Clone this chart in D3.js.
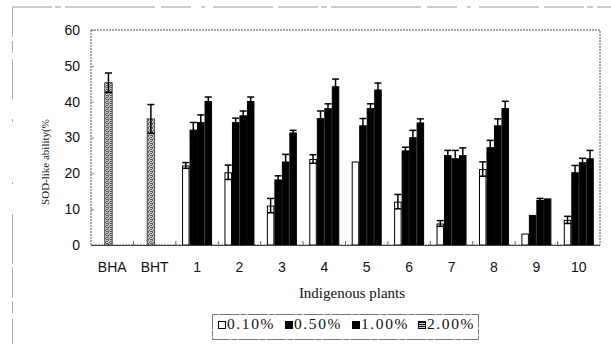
<!DOCTYPE html>
<html><head><meta charset="utf-8">
<script src="https://cdn.jsdelivr.net/npm/d3@7"></script>
<style>body{margin:0;background:#fff;} svg{display:block;}</style>
</head><body>
<svg id="chart" width="611" height="344"></svg>
<script>
const categories = ["BHA","BHT","1","2","3","4","5","6","7","8","9","10"];
const plants = ["1","2","3","4","5","6","7","8","9","10"];
const seriesNames = ["0.10%","0.50%","1.00%","2.00%"];
const standardNames = ["BHA","BHT"];
const standardValues = [45.3, 35.2];
const standardErrors = [2.7, 4.0];
const v010 = [22.2, 20.3, 11.0, 24.0, 23.3, 12.1, 6.0, 21.2, 3.2, 7.0];
const e010 = [0.8, 2.0, 2.0, 1.2, 0, 2.0, 0.8, 2.0, 0, 1.0];
const v050 = [32.2, 34.3, 18.3, 35.4, 33.4, 26.4, 25.1, 27.3, 8.4, 20.3];
const e050 = [2.0, 1.1, 1.0, 2.0, 1.9, 0.9, 1.3, 1.9, 0, 1.9];
const v100 = [34.3, 36.2, 23.3, 38.2, 38.2, 30.1, 24.2, 33.4, 12.6, 23.1];
const e100 = [2.0, 1.2, 2.0, 1.2, 1.2, 1.9, 2.2, 1.8, 0.4, 1.1];
const v200 = [40.2, 40.2, 31.4, 44.3, 43.4, 34.2, 25.1, 38.2, 13.0, 24.2];
const e200 = [1.1, 1.1, 0.6, 2.0, 1.8, 1.0, 2.0, 1.9, 0, 2.2];
const yTicks = [0, 10, 20, 30, 40, 50, 60];

const values = [v010, v050, v100, v200];
const errors = [e010, e050, e100, e200];
const fills = ["#ffffff", "#000000", "#000000", "#000000"];

const svg = d3.select("#chart");
const L = 91, R = 600, T = 30, B = 245;

const defs = svg.append("defs");
const st = defs.append("pattern").attr("id","stipple").attr("patternUnits","userSpaceOnUse")
  .attr("width",4).attr("height",4);
st.append("rect").attr("width",4).attr("height",4).attr("fill","#c4c4c4");
[[0,0],[2,1],[1,2],[3,3],[0,3],[3,1],[2,3]].forEach(p=>st.append("rect").attr("x",p[0]).attr("y",p[1]).attr("width",1).attr("height",1).attr("fill","#5e5e5e"));
const sp = defs.append("pattern").attr("id","stripes").attr("patternUnits","userSpaceOnUse")
  .attr("width",3).attr("height",2);
sp.append("rect").attr("width",3).attr("height",2).attr("fill","#cfcfcf");
sp.append("rect").attr("width",3).attr("height",1).attr("fill","#111");

const x0 = d3.scaleBand().domain(categories).range([L, R]).paddingInner(0.293).paddingOuter(0.1465);
const x1 = d3.scaleBand().domain(seriesNames).range([0, x0.bandwidth()]);
const y = d3.scaleLinear().domain([0, 60]).range([B, T]);

// figure frame (scan border)
svg.append("line").attr("x1",12).attr("x2",611).attr("y1",7).attr("y2",7)
  .attr("stroke","#999").attr("stroke-width",1).attr("stroke-dasharray","40,3,6,4,90,6,30,10,4,8,60,5");
svg.append("line").attr("x1",12.5).attr("x2",12.5).attr("y1",7).attr("y2",344)
  .attr("stroke","#aaa").attr("stroke-width",1).attr("stroke-dasharray","30,4,12,6,40,20,3,60,2,30,50,3");

// plot border
svg.append("rect").attr("x",L).attr("y",T).attr("width",R-L).attr("height",B-T)
  .attr("fill","none").attr("stroke","#555").attr("stroke-width",1).attr("stroke-dasharray","2,1");

// y axis
const yAxis = d3.axisLeft(y).tickValues(yTicks).tickSizeInner(-3).tickSizeOuter(0).tickPadding(11);
const ya = svg.append("g").attr("transform",`translate(${L},0)`).call(yAxis);
ya.select(".domain").remove();
ya.selectAll("line").attr("stroke","#888");
ya.selectAll("text").attr("font-family","'Liberation Sans', Arial, sans-serif").attr("font-size",14).attr("fill","#111");

// x axis
const xAxis = d3.axisBottom(x0).tickSize(0).tickPadding(17);
const xa = svg.append("g").attr("transform",`translate(0,${B})`).call(xAxis);
xa.select(".domain").remove();
xa.selectAll("text").attr("font-family","'Liberation Sans', Arial, sans-serif").attr("font-size",14).attr("fill","#111");

// category boundary ticks
const bounds = categories.slice(1).map(c => x0(c) - x0.step()*x0.paddingInner()/2);
svg.append("g").selectAll("line").data(bounds).join("line")
  .attr("x1",d=>d).attr("x2",d=>d).attr("y1",B).attr("y2",B-4)
  .attr("stroke","#666").attr("stroke-width",1);

// standards
const stdG = svg.append("g");
standardNames.forEach((n,i)=>{
  const bx = x0(n) + x1(seriesNames[1]);
  stdG.append("rect").attr("x",bx).attr("y",y(standardValues[i])).attr("width",x1.bandwidth())
    .attr("height",B - y(standardValues[i])).attr("fill","url(#stipple)").attr("stroke","#333").attr("stroke-width",0.8);
  const cx = bx + x1.bandwidth()/2;
  const top = y(standardValues[i]+standardErrors[i]), bot = y(standardValues[i]-standardErrors[i]);
  stdG.append("line").attr("x1",cx).attr("x2",cx).attr("y1",top).attr("y2",bot).attr("stroke","#000").attr("stroke-width",1.5);
  stdG.append("line").attr("x1",cx-3.5).attr("x2",cx+3.5).attr("y1",top).attr("y2",top).attr("stroke","#000").attr("stroke-width",1.5);
  stdG.append("line").attr("x1",cx-3.5).attr("x2",cx+3.5).attr("y1",bot).attr("y2",bot).attr("stroke","#000").attr("stroke-width",1.5);
});

// plant bars
const barG = svg.append("g");
seriesNames.forEach((s,si)=>{
  plants.forEach((p,pi)=>{
    const v = values[si][pi], e = errors[si][pi];
    const bx = x0(p) + x1(s);
    barG.append("rect").attr("x",bx+0.5).attr("y",y(v)+0.5).attr("width",x1.bandwidth()-1)
      .attr("height",B - y(v)-0.5).attr("fill",fills[si]).attr("stroke","#000").attr("stroke-width",1);
    if (e > 0) {
      const cx = bx + x1.bandwidth()/2;
      const top = y(v+e), bot = y(v-e);
      barG.append("line").attr("x1",cx).attr("x2",cx).attr("y1",top).attr("y2",bot).attr("stroke","#000").attr("stroke-width",1.5);
      barG.append("line").attr("x1",cx-3.5).attr("x2",cx+3.5).attr("y1",top).attr("y2",top).attr("stroke","#000").attr("stroke-width",1.5);
      barG.append("line").attr("x1",cx-3.5).attr("x2",cx+3.5).attr("y1",bot).attr("y2",bot).attr("stroke","#000").attr("stroke-width",1.5);
    }
  });
});

// bottom axis line
svg.append("line").attr("x1",L).attr("x2",R).attr("y1",B+0.5).attr("y2",B+0.5).attr("stroke","#444").attr("stroke-width",1);

// titles
svg.append("text").attr("x",352).attr("y",298).attr("text-anchor","middle")
  .attr("font-family","'Liberation Serif', 'Times New Roman', serif").attr("font-size",15).attr("fill","#111")
  .text("Indigenous plants");
svg.append("text").attr("transform","translate(49,162) rotate(-90)").attr("text-anchor","middle")
  .attr("font-family","'Liberation Serif', 'Times New Roman', serif").attr("font-size",11).attr("fill","#111")
  .text("SOD-like ability(%");

// legend
const lg = svg.append("g");
lg.append("rect").attr("x",212.5).attr("y",314.5).attr("width",266).attr("height",25)
  .attr("fill","none").attr("stroke","#777").attr("stroke-width",1).attr("stroke-dasharray","6,1,20,1");
const legX = [218, 285, 352, 418];
const legFill = ["#fff", "#000", "#000", "url(#stripes)"];
seriesNames.forEach((s,i)=>{
  lg.append("rect").attr("x",legX[i]+0.5).attr("y",321.5).attr("width",7).attr("height",7)
    .attr("fill",legFill[i]).attr("stroke","#000").attr("stroke-width",1);
  lg.append("text").attr("x",legX[i]+9).attr("y",329)
    .attr("font-family","'Liberation Serif', 'Times New Roman', serif").attr("font-size",15.5)
    .attr("letter-spacing","1.6px").attr("fill","#111").text(s);
});
</script>
</body></html>
